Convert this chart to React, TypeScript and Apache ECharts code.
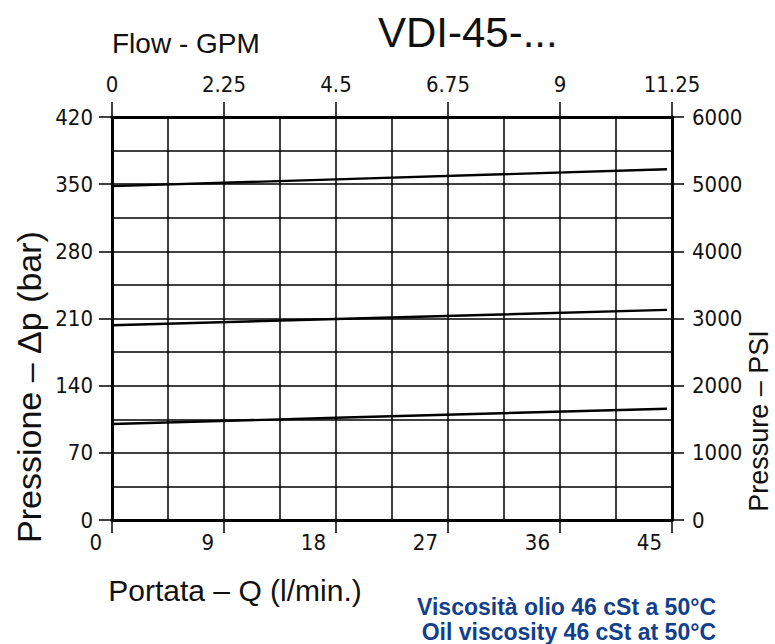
import React, { useEffect, useRef } from "react";
import * as echarts from "echarts";

// Flow axis (l/min) and GPM axis
const flowLpm = [0, 18, 44.6];
const gpmTicks = [0, 2.25, 4.5, 6.75, 9, 11.25];
// Pressure drop curves (bar)
const curveHigh = [348, 355, 365.5];
const curveMid = [203, 209.5, 219];
const curveLow = [100, 106.5, 116];

const chartTitle = "VDI-45-...";
const flowGpmTitle = "Flow - GPM";
const leftTitle = "Pressione – Δp (bar)";
const rightTitle = "Pressure – PSI";
const bottomTitle = "Portata – Q (l/min.)";
const noteIt = "Viscosità olio 46 cSt a 50°C";
const noteEn = "Oil viscosity 46 cSt at 50°C";

const NARROW = "'Liberation Sans Narrow', 'DejaVu Sans Condensed', sans-serif";
const SANS = "'Liberation Sans', Arial, sans-serif";

export default function App() {
  const ref = useRef<HTMLDivElement>(null);
  useEffect(() => {
    document.body.style.margin = "0";
    if (!ref.current) return;
    const chart = echarts.init(ref.current, null, { renderer: "svg" });
    const mk = (ys: number[]) => flowLpm.map((x, i) => [x, ys[i]]);
    const lineStyle = { color: "#000", width: 1.5 };
    const fmt = (v: number) => String(v);
    const axisLabelBase = { fontFamily: NARROW, fontSize: 22, color: "#111", formatter: fmt };
    chart.setOption({
      animation: false,
      backgroundColor: "#fff",
      grid: { left: 112, right: 103, top: 117, bottom: 124, containLabel: false },
      xAxis: [
        {
          type: "value",
          position: "bottom",
          min: 0,
          max: 45,
          interval: 9,
          axisLine: { show: true, onZero: false, lineStyle: { color: "#000", width: 3 } },
          axisTick: { show: true, length: 13, lineStyle: { color: "#000", width: 1.5 } },
          axisLabel: { ...axisLabelBase, align: "right", padding: [0, 10, 0, 0], margin: 11 },
          splitLine: { show: true, lineStyle },
          minorTick: { show: false, splitNumber: 2 },
          minorSplitLine: { show: true, lineStyle },
        },
        {
          type: "value",
          position: "top",
          min: 0,
          max: gpmTicks[gpmTicks.length - 1],
          interval: 2.25,
          axisLine: { show: true, onZero: false, lineStyle: { color: "#000", width: 3 } },
          axisTick: { show: true, length: 15, lineStyle: { color: "#000", width: 1.5 } },
          axisLabel: { ...axisLabelBase, margin: 22 },
          splitLine: { show: false },
        },
      ],
      yAxis: [
        {
          type: "value",
          position: "left",
          min: 0,
          max: 420,
          interval: 70,
          axisLine: { show: true, onZero: false, lineStyle: { color: "#000", width: 3 } },
          axisTick: { show: true, length: 13, lineStyle: { color: "#000", width: 1.5 } },
          axisLabel: { ...axisLabelBase, margin: 19 },
          splitLine: { show: true, lineStyle },
          minorTick: { show: false, splitNumber: 2 },
          minorSplitLine: { show: true, lineStyle },
        },
        {
          type: "value",
          position: "right",
          min: 0,
          max: 6000,
          interval: 1000,
          axisLine: { show: true, onZero: false, lineStyle: { color: "#000", width: 3 } },
          axisTick: { show: true, length: 12, lineStyle: { color: "#000", width: 1.5 } },
          axisLabel: { ...axisLabelBase, margin: 20 },
          splitLine: { show: false },
        },
      ],
      series: [curveHigh, curveMid, curveLow].map((c, i) => ({
        name: "c" + i,
        type: "line",
        xAxisIndex: 0,
        yAxisIndex: 0,
        data: mk(c),
        symbol: "none",
        lineStyle: { color: "#000", width: 2.4 },
      })),
      graphic: [
        {
          type: "text",
          left: 378,
          top: 11,
          style: { text: chartTitle, font: `42px ${SANS}`, fill: "#111" },
        },
        {
          type: "text",
          left: 112,
          top: 29,
          style: { text: flowGpmTitle, font: `28px ${SANS}`, fill: "#111" },
        },
        {
          type: "text",
          x: 29,
          y: 387,
          rotation: Math.PI / 2,
          style: {
            text: leftTitle,
            font: `34px ${SANS}`,
            fill: "#111",
            align: "center",
            verticalAlign: "middle",
          },
        },
        {
          type: "text",
          x: 759,
          y: 421,
          rotation: Math.PI / 2,
          style: {
            text: rightTitle,
            font: `27px ${SANS}`,
            fill: "#111",
            align: "center",
            verticalAlign: "middle",
          },
        },
        {
          type: "text",
          x: 235,
          y: 590,
          style: {
            text: bottomTitle,
            font: `30px ${SANS}`,
            fill: "#111",
            align: "center",
            verticalAlign: "middle",
          },
        },
        {
          type: "text",
          x: 716,
          y: 607,
          style: {
            text: noteIt,
            font: `bold 23px ${SANS}`,
            fill: "#123f8c",
            align: "right",
            verticalAlign: "middle",
          },
        },
        {
          type: "text",
          x: 716,
          y: 632,
          style: {
            text: noteEn,
            font: `bold 23px ${SANS}`,
            fill: "#123f8c",
            align: "right",
            verticalAlign: "middle",
          },
        },
      ],
    });
    return () => chart.dispose();
  }, []);
  return (
    <div
      ref={ref}
      style={{ position: "absolute", left: 0, top: 0, width: 775, height: 644 }}
    />
  );
}
